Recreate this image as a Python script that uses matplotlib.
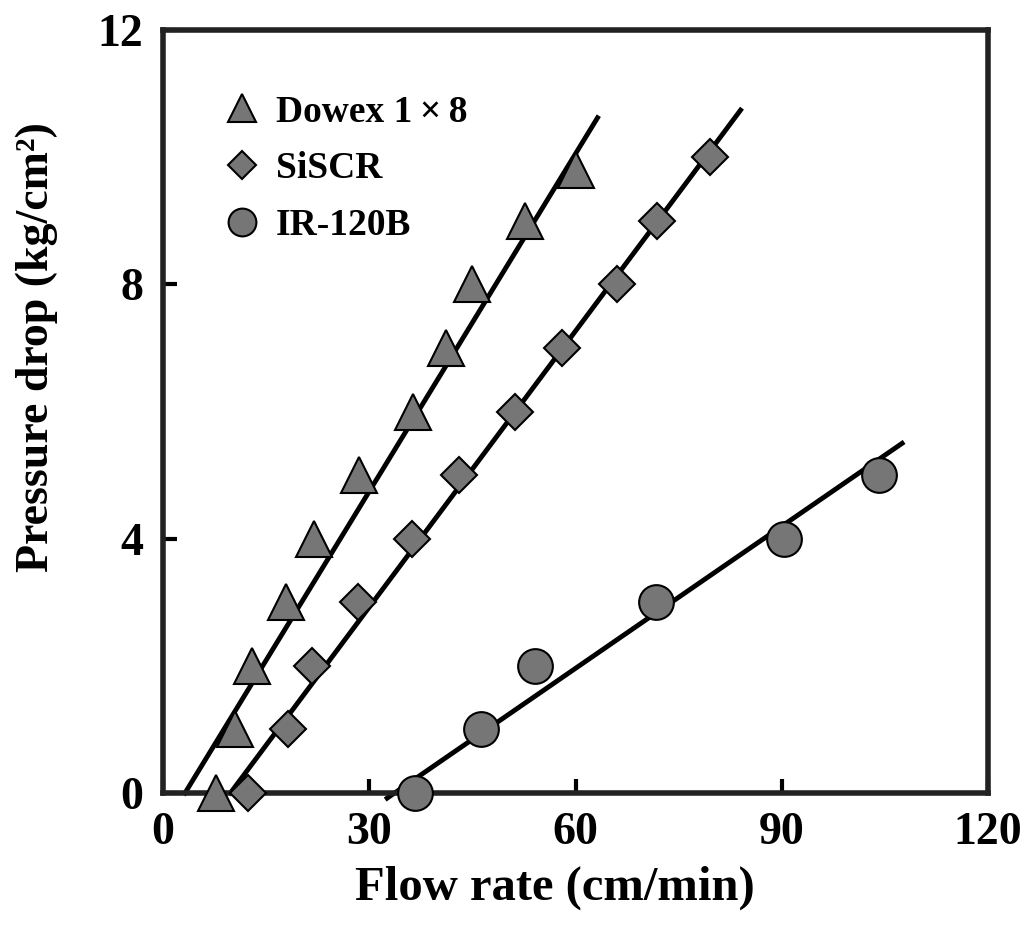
import numpy as np
import matplotlib
matplotlib.use('Agg')
import matplotlib.pyplot as plt

# Data
dowex_x = [7.7, 10.5, 13.0, 17.9, 22.0, 28.5, 36.3, 41.2, 45.0, 52.6, 60.0]
dowex_y = [0, 1, 2, 3, 4, 5, 6, 7, 8, 9, 9.8]
siscr_x = [12.4, 18.2, 21.7, 28.4, 36.2, 43.0, 51.2, 58.0, 66.0, 71.9, 79.5]
siscr_y = [0, 1, 2, 3, 4, 5, 6, 7, 8, 9, 10]
ir_x = [36.7, 46.3, 54.1, 71.7, 90.3, 104.1]
ir_y = [0, 1, 2, 3, 4, 5]

# fitted straight lines (end points)
dowex_fit_x = [3.2, 63.2]
dowex_fit_y = [0, 10.62]
siscr_fit_x = [9.8, 84.0]
siscr_fit_y = [0, 10.74]
ir_fit_x = [32.6, 107.5]
ir_fit_y = [-0.08, 5.5]

labels = ['Dowex 1\u2009\u00d7\u20098', 'SiSCR', 'IR-120B']
x_ticks = [0, 30, 60, 90, 120]
y_ticks = [0, 4, 8, 12]

plt.rcParams['font.family'] = ['Liberation Serif', 'DejaVu Serif']
plt.rcParams['font.weight'] = 'bold'

fig = plt.figure(figsize=(10.29, 9.32), dpi=100)
ax = fig.add_axes([0.1584, 0.1491, 0.8018, 0.8187])

fill = '#767676'
ax.plot(dowex_fit_x, dowex_fit_y, color='black', lw=3.5, zorder=2, clip_on=False)
ax.plot(siscr_fit_x, siscr_fit_y, color='black', lw=3.5, zorder=2, clip_on=False)
ax.plot(ir_fit_x, ir_fit_y, color='black', lw=3.5, zorder=2, clip_on=False)

ax.plot(dowex_x, dowex_y, '^', ms=26, mfc=fill, mec='black', mew=1.5, ls='none',
        label=labels[0], zorder=3, clip_on=False)
ax.plot(siscr_x, siscr_y, 'D', ms=18, mfc=fill, mec='black', mew=1.5, ls='none',
        label=labels[1], zorder=3, clip_on=False)
ax.plot(ir_x, ir_y, 'o', ms=25, mfc=fill, mec='black', mew=1.5, ls='none',
        label=labels[2], zorder=3, clip_on=False)

ax.set_xlim(0, 120)
ax.set_ylim(0, 12)
ax.set_xticks(x_ticks)
ax.set_yticks(y_ticks)
ax.tick_params(direction='in', length=10, width=3, labelsize=33, top=False, right=False)
ax.tick_params(axis='x', pad=14)
ax.tick_params(axis='y', pad=14)
for s in ax.spines.values():
    s.set_linewidth(4)
    s.set_color('#222222')

ax.set_xlabel('Flow rate (cm/min)', fontsize=35, fontweight='bold')
ax.xaxis.set_label_coords(0.475, -0.095)
ax.set_ylabel('Pressure drop (kg/cm\u00b2)', fontsize=33, fontweight='bold')
ax.yaxis.set_label_coords(-0.127, 0.585)

leg = ax.legend(loc='upper left', bbox_to_anchor=(0.055, 0.935), frameon=False,
                fontsize=27, markerscale=0.8, handlelength=1.0, handletextpad=0.4,
                labelspacing=0.58, borderaxespad=0)

fig.savefig('out.png', dpi=100)
